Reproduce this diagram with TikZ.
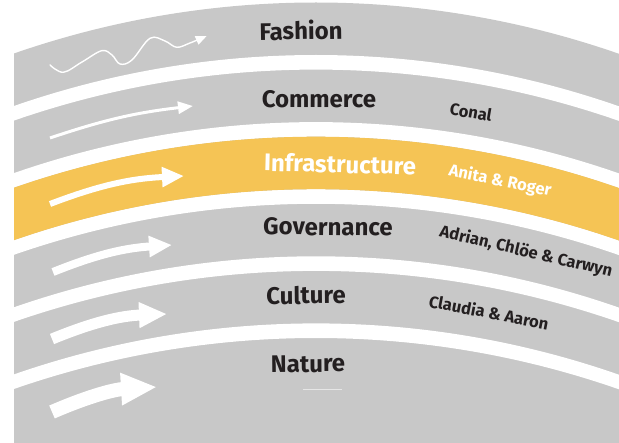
\documentclass[tikz,border=0pt]{standalone}
\usepackage{fontspec}
\setmainfont{Fira Sans}
\usetikzlibrary{arrows.meta}
\definecolor{bandgray}{HTML}{C8C8C8}
\definecolor{bandyellow}{HTML}{F5C455}
\definecolor{ink}{HTML}{231F20}
\newcommand\bandfill[3]{%
  \fill[#1] (316,{443-#2-920}) ++(112:920pt)
    arc[start angle=112,end angle=68,radius=920pt] -- ++(0,-#3)
    arc[start angle=68,end angle=112,radius=920pt] -- cycle;}
\tikzset{
  mainlabel/.style={text=ink, font=\fontsize{24}{28}\selectfont\bfseries, inner sep=0pt, anchor=center},
  namelabel/.style={text=ink, font=\fontsize{16.6}{19}\selectfont\bfseries, inner sep=0pt, anchor=center},
  flow/.style={draw=white, line width=#1}
}
\begin{document}
\begin{tikzpicture}[x=1pt,y=1pt]
\useasboundingbox (0,0) rectangle (619,443);
\begin{scope}
\clip (14,0) rectangle (619,443);
% gray body
\fill[bandgray] (316,{443-2.5-920}) ++(112:920pt)
  arc[start angle=112,end angle=68,radius=920pt] -- (700,-20) -- (-60,-20) -- cycle;
% white gaps
\bandfill{white}{55.0}{14.6}
\bandfill{white}{122.1}{14.6}
\bandfill{white}{189.2}{14.6}
\bandfill{white}{256.3}{14.6}
\bandfill{white}{323.4}{14.6}
% highlighted band
\bandfill{bandyellow}{136.7}{52.5}
\end{scope}
% faint line under Nature
\draw[color=white!55!bandgray, line width=0.8pt] (303,54) -- (342,54);

% arrows
\draw[flow=1.4pt, line cap=round, -{Triangle[length=11pt,width=9pt]}]
  plot[smooth, tension=0.6] coordinates {(50,378) (63.3,370.7) (82,381) (101.7,392.3) (112,388) (120,379) (132,383) (150,404.7) (165,402) (176.7,395.7) (190,400) (206.7,407)};
\coordinate (c1) at (50,305);   \coordinate (c2) at (193,337);
\draw[flow=3pt, -{Triangle[length=15pt,width=12pt]}] (c1) to[bend left=6] (c2);
\coordinate (i1) at (50,239);   \coordinate (i2) at (184,267);
\draw[flow=6pt, -{Triangle[length=22pt,width=19pt]}] (i1) to[bend left=9] (i2);
\coordinate (g1) at (53,171);   \coordinate (g2) at (172,198);
\draw[flow=8pt, -{Triangle[length=23pt,width=20pt]}] (g1) to[bend left=9] (g2);
\coordinate (u1) at (52,104);   \coordinate (u2) at (167,129);
\draw[flow=11pt, -{Triangle[length=28pt,width=24pt]}] (u1) to[bend left=10] (u2);
\coordinate (n1) at (52,31);    \coordinate (n2) at (157,56);
\draw[flow=14pt, -{Triangle[length=36pt,width=30pt]}] (n1) to[bend left=10] (n2);

% band titles
\node[mainlabel, rotate=0.9] (fashion) at (301,413) {Fashion};
\node[mainlabel, rotate=-0.2] (commerce) at (319,344) {Commerce};
\node[mainlabel, rotate=-1.5, text=white] (infra) at (340,279) {Infrastructure};
\node[mainlabel, rotate=-0.7] (gov) at (328,216) {Governance};
\node[mainlabel, rotate=0.6] (culture) at (306,148) {Culture};
\node[mainlabel, rotate=0.5] (nature) at (308,79) {Nature};

% names
\node[namelabel, rotate=-9.7] (conal) at (471,331) {Conal};
\node[namelabel, rotate=-11.6, text=white] (anita) at (500,262) {Anita \& Roger};
\node[namelabel, rotate=-13.2] (adrian) at (526,191) {Adrian, Chlöe \& Carwyn};
\node[namelabel, rotate=-10.8] (claudia) at (489,131) {Claudia \& Aaron};
\end{tikzpicture}
\end{document}
